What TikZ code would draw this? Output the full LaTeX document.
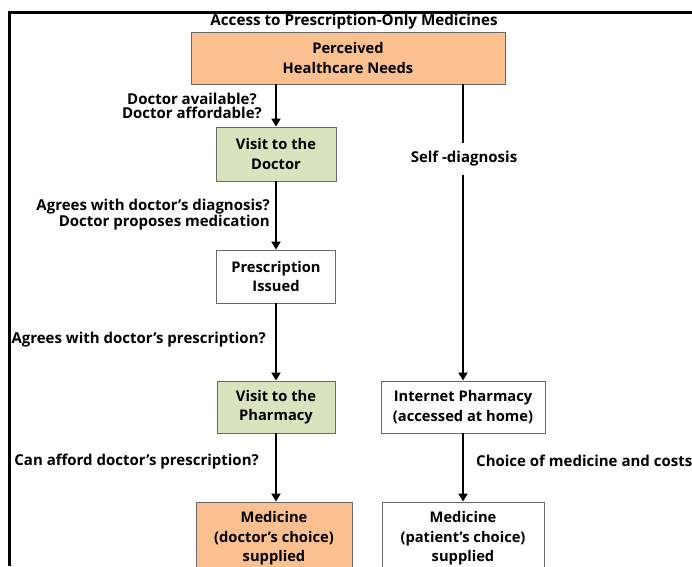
\documentclass[tikz,border=0pt]{standalone}
\usepackage{fontspec}
\setmainfont{Open Sans}
\usetikzlibrary{arrows.meta}
\definecolor{peach}{HTML}{FAC090}
\definecolor{sage}{HTML}{D7E4BD}
\definecolor{boxline}{RGB}{105,105,105}
\begin{document}
\begin{tikzpicture}[x=1pt,y=-1pt,
  box/.style={draw=boxline,line width=0.9pt,align=center,inner sep=0pt,
    font=\bfseries\fontsize{14.7}{19.5}\selectfont},
  lab/.style={inner sep=0pt,font=\bfseries\fontsize{15}{13.5}\selectfont},
  arr/.style={line width=2.6pt,-{Triangle[width=9pt,length=8pt]}}]
\useasboundingbox (0,0) rectangle (692,566);
\clip (0,0) rectangle (692,566);
\fill[white] (0,0) rectangle (692,566);
\draw[line width=3pt] (9,566) -- (9,12) -- (692,12);
\node[inner sep=0pt,font=\bfseries\fontsize{15.2}{15}\selectfont] (title) at (354,22) {Access to Prescription-Only Medicines};
\node[box,fill=peach,minimum width=314pt,minimum height=52pt] (need) at (348,58) {Perceived\\Healthcare Needs};
\node[box,fill=sage,minimum width=120pt,minimum height=54pt] (doc) at (276,154) {Visit to the\\Doctor};
\node[box,fill=white,minimum width=119pt,minimum height=53pt] (presc) at (276,276.5) {Prescription\\Issued};
\node[box,fill=sage,minimum width=118pt,minimum height=52pt] (pharm) at (276,407) {Visit to the\\Pharmacy};
\node[box,fill=peach,minimum width=156pt,minimum height=73pt] (medd) at (274,538.5) {Medicine\\(doctor’s choice)\\supplied};
\node[box,fill=white,minimum width=164pt,minimum height=52pt] (inet) at (463,407) {Internet Pharmacy\\(accessed at home)};
\node[box,fill=white,minimum width=162pt,minimum height=73pt] (medp) at (463,538.5) {Medicine\\(patient’s choice)\\supplied};

\draw[arr] (doc.north |- need.south) -- (doc.north);
\draw[arr] (doc.south) -- (presc.north);
\draw[arr] (presc.south) -- (pharm.north);
\draw[arr] (pharm.south) -- (pharm.south |- medd.north);
\draw[arr] (inet.north |- need.south) -- (inet.north);
\draw[arr] (inet.south) -- (inet.south |- medp.north);

\node[lab,fill=white,inner xsep=2pt,inner ysep=8pt] (self) at (464,159) {Self -diagnosis};
\node[lab,align=center,anchor=east] (l1) at (262,106) {Doctor available?\\Doctor affordable?};
\node[lab,align=right,anchor=east] (l2) at (270,215) {Agrees with doctor’s diagnosis?\\Doctor proposes medication};
\node[lab,anchor=east] (l3) at (266,340) {Agrees with doctor’s prescription?};
\node[lab,anchor=east] (l4) at (259,462) {Can afford doctor’s prescription?};
\node[lab,anchor=west] (l5) at (476,461) {Choice of medicine and costs};
\end{tikzpicture}
\end{document}
